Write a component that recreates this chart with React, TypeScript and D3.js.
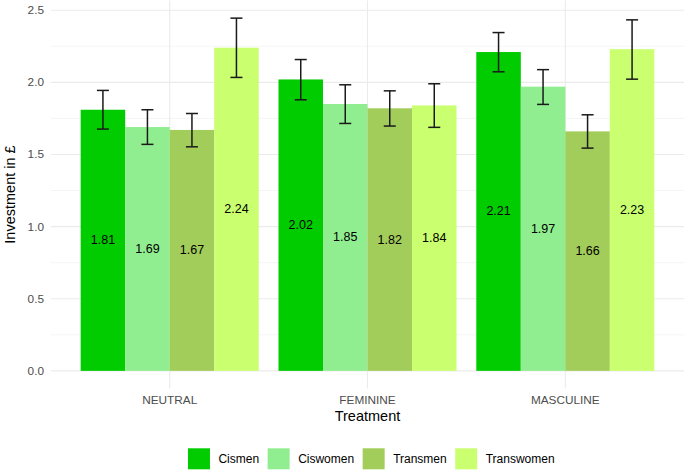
import React from "react";
import * as d3 from "d3";

const treatments = ["NEUTRAL", "FEMININE", "MASCULINE"];
const groups = ["Cismen", "Ciswomen", "Transmen", "Transwomen"];
const colors = ["#00CC00", "#90EE90", "#A2CD5A", "#CAFF70"];

// means per treatment (rows) by group (cols)
const means = [
  [1.81, 1.69, 1.67, 2.24],
  [2.02, 1.85, 1.82, 1.84],
  [2.21, 1.97, 1.66, 2.23],
];
const lower = [
  [1.676, 1.570, 1.553, 2.034],
  [1.879, 1.715, 1.697, 1.688],
  [2.073, 1.847, 1.544, 2.022],
];
const upper = [
  [1.944, 1.810, 1.784, 2.445],
  [2.158, 1.983, 1.941, 1.990],
  [2.345, 2.088, 1.775, 2.433],
];
const yTicks = [0, 0.5, 1.0, 1.5, 2.0, 2.5];
const yMinor = [0.25, 0.75, 1.25, 1.75, 2.25];

const W = 685;
const H = 470;
const FONT = "'Liberation Sans', Arial, sans-serif";

export default function App() {
  const left = 51;
  const right = 684;
  const top = 0.5;
  const bottom = 388.5;

  const maxV = d3.max(upper.flat()) as number;
  const lo = 0 - 0.05 * maxV;
  const hi = maxV + 0.05 * maxV;
  const y = d3.scaleLinear().domain([lo, hi]).range([bottom, top]);

  const x = d3
    .scaleBand<string>()
    .domain(treatments)
    .range([left, right])
    .paddingInner(0.1)
    .paddingOuter(0.15);
  const xs = d3.scaleBand<string>().domain(groups).range([0, x.bandwidth()]).padding(0);

  const capW = xs.bandwidth() * 0.27;

  // legend layout
  const measure = (t: string) => {
    const c = document.createElement("canvas").getContext("2d");
    if (!c) return t.length * 6.5;
    c.font = `12px ${FONT}`;
    return c.measureText(t).width;
  };
  const keyW = 22;
  const keyH = 21;
  const gap = 8.5;
  const widths = groups.map(measure);
  const totalW = groups.length * (keyW + gap) + d3.sum(widths) + (groups.length - 1) * gap;
  let cursor = 371.3 - totalW / 2;
  const legendItems = groups.map((g, i) => {
    const kx = cursor;
    const tx = kx + keyW + gap;
    cursor = tx + widths[i] + gap;
    return { g, i, kx, tx };
  });
  const legendY = 448.3;

  return (
    <svg width={W} height={H} style={{ position: "absolute", left: 0, top: 0, background: "#fff" }} fontFamily={FONT}>
      {/* grid */}
      {yMinor.map((v) => (
        <line key={"m" + v} x1={left} x2={right} y1={y(v)} y2={y(v)} stroke="#EBEBEB" strokeWidth={0.55} />
      ))}
      {yTicks.map((v) => (
        <line key={"g" + v} x1={left} x2={right} y1={y(v)} y2={y(v)} stroke="#EBEBEB" strokeWidth={1.1} />
      ))}
      {treatments.map((t) => {
        const cx = (x(t) as number) + x.bandwidth() / 2;
        return <line key={"v" + t} x1={cx} x2={cx} y1={top} y2={bottom} stroke="#EBEBEB" strokeWidth={1.1} />;
      })}

      {/* bars */}
      {treatments.map((t, ti) =>
        groups.map((g, gi) => {
          const bx = (x(t) as number) + (xs(g) as number);
          return (
            <rect
              key={t + g}
              x={bx}
              y={y(means[ti][gi])}
              width={xs.bandwidth()}
              height={y(0) - y(means[ti][gi])}
              fill={colors[gi]}
            />
          );
        })
      )}

      {/* error bars */}
      {treatments.map((t, ti) =>
        groups.map((g, gi) => {
          const cx = (x(t) as number) + (xs(g) as number) + xs.bandwidth() / 2;
          const yt = y(upper[ti][gi]);
          const yb = y(lower[ti][gi]);
          return (
            <g key={"e" + t + g} stroke="#1a1a1a" strokeWidth={1.5}>
              <line x1={cx} x2={cx} y1={yt} y2={yb} />
              <line x1={cx - capW / 2} x2={cx + capW / 2} y1={yt} y2={yt} />
              <line x1={cx - capW / 2} x2={cx + capW / 2} y1={yb} y2={yb} />
            </g>
          );
        })
      )}

      {/* value labels */}
      {treatments.map((t, ti) =>
        groups.map((g, gi) => {
          const cx = (x(t) as number) + (xs(g) as number) + xs.bandwidth() / 2;
          return (
            <text
              key={"l" + t + g}
              x={cx}
              y={y(means[ti][gi] / 2)}
              textAnchor="middle"
              dominantBaseline="central"
              fontSize={12.5}
              fill="#000"
            >
              {means[ti][gi].toFixed(2)}
            </text>
          );
        })
      )}

      {/* y axis labels */}
      {yTicks.map((v) => (
        <text
          key={"yt" + v}
          x={44}
          y={y(v)}
          textAnchor="end"
          dominantBaseline="central"
          fontSize={11.8}
          fill="#4D4D4D"
        >
          {v.toFixed(1)}
        </text>
      ))}
      <text
        transform={`translate(9.5, ${(top + bottom) / 2}) rotate(-90)`}
        textAnchor="middle"
        dominantBaseline="central"
        fontSize={14.5}
        fill="#000"
      >
        Investment in £
      </text>

      {/* x axis labels */}
      {treatments.map((t) => (
        <text
          key={"xt" + t}
          x={(x(t) as number) + x.bandwidth() / 2}
          y={400}
          textAnchor="middle"
          dominantBaseline="central"
          fontSize={11.8}
          fill="#4D4D4D"
        >
          {t}
        </text>
      ))}
      <text x={(left + right) / 2} y={416} textAnchor="middle" dominantBaseline="central" fontSize={14.5} fill="#000">
        Treatment
      </text>

      {/* legend */}
      {legendItems.map(({ g, i, kx, tx }) => (
        <g key={"lg" + g}>
          <rect x={kx} y={legendY} width={keyW} height={keyH} fill={colors[i]} />
          <text x={tx} y={legendY + keyH / 2 + 0.5} dominantBaseline="central" fontSize={12} fill="#000">
            {g}
          </text>
        </g>
      ))}
    </svg>
  );
}
